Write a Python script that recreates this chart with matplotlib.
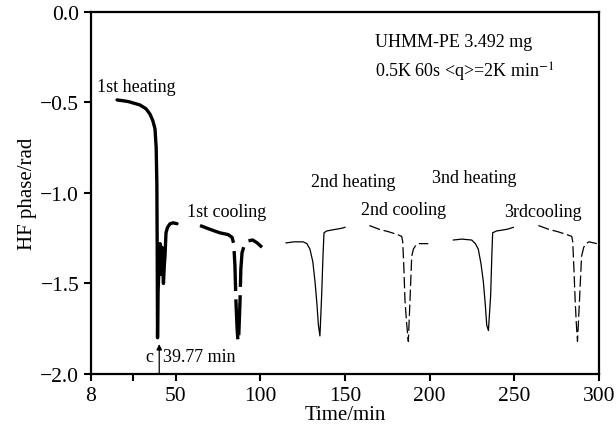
import matplotlib
matplotlib.use('Agg')
import matplotlib.pyplot as plt

# curves: time (min), HF phase (rad)
heat1_t = [15.4, 22.0, 28.9, 32.5, 34.8, 36.5, 37.8, 38.5, 38.9, 39.1, 39.3, 39.6, 40.2, 40.8, 41.3, 41.9, 42.4, 42.8, 43.3, 43.7, 44.3, 45.2, 46.7, 48.5, 50.8]
heat1_v = [-0.486, -0.495, -0.514, -0.535, -0.564, -0.60, -0.646, -0.75, -0.95, -1.30, -1.80, -1.55, -1.40, -1.28, -1.45, -1.30, -1.42, -1.50, -1.40, -1.35, -1.22, -1.19, -1.17, -1.165, -1.17]

cool1_t = [64.4, 70.0, 76.0, 81.0, 83.3, 84.3, 85.0, 85.6, 86.3, 86.8, 87.3, 88.0, 88.5, 89.2, 90.5, 92.5, 95.5, 98.0, 101.0]
cool1_v = [-1.18, -1.20, -1.22, -1.23, -1.245, -1.28, -1.40, -1.60, -1.75, -1.82, -1.78, -1.60, -1.42, -1.33, -1.29, -1.265, -1.26, -1.275, -1.30]

heat2_t = [115.2, 120.0, 125.3, 127.5, 129.3, 131.0, 132.3, 133.4, 134.3, 135.2, 136.2, 137.0, 137.6, 139.2, 142.0, 145.1, 148.0, 150.0]
heat2_v = [-1.276, -1.27, -1.27, -1.28, -1.31, -1.38, -1.49, -1.61, -1.73, -1.79, -1.57, -1.35, -1.22, -1.21, -1.205, -1.20, -1.195, -1.19]

cool2_t = [164.4, 170.0, 176.0, 181.0, 183.5, 184.1, 184.8, 185.4, 186.4, 187.4, 188.4, 189.4, 190.4, 191.8, 193.3, 196.0, 199.2]
cool2_v = [-1.18, -1.20, -1.215, -1.23, -1.24, -1.27, -1.42, -1.59, -1.72, -1.82, -1.59, -1.35, -1.31, -1.29, -1.28, -1.28, -1.28]

heat3_t = [214.0, 219.0, 224.8, 227.0, 228.7, 230.3, 231.7, 232.8, 233.7, 234.7, 236.0, 236.7, 237.2, 239.5, 243.0, 246.0, 249.4]
heat3_v = [-1.26, -1.255, -1.26, -1.28, -1.31, -1.39, -1.49, -1.61, -1.73, -1.76, -1.57, -1.35, -1.22, -1.21, -1.205, -1.20, -1.19]

cool3_t = [264.2, 270.0, 276.0, 281.0, 283.9, 284.5, 285.2, 285.9, 286.6, 287.3, 288.5, 289.7, 291.0, 292.5, 294.0, 296.5, 298.7]
cool3_v = [-1.18, -1.20, -1.215, -1.23, -1.24, -1.27, -1.42, -1.59, -1.72, -1.82, -1.59, -1.35, -1.30, -1.28, -1.27, -1.275, -1.28]

x_ticks = [0, 25, 50, 100, 150, 200, 250, 300]
x_labels = ['8', '', '50', '100', '150', '200', '250', '300']
y_ticks = [0.0, -0.5, -1.0, -1.5, -2.0]

plt.rcParams['font.family'] = ['Liberation Serif', 'DejaVu Serif']
plt.rcParams['mathtext.fontset'] = 'stix'

fig = plt.figure(figsize=(6.16, 4.31), dpi=100)
ax = fig.add_axes([0.1477, 0.130, 0.8247, 0.840])

ax.plot(heat1_t, heat1_v, color='black', linewidth=2.4, solid_capstyle='round')
ax.plot(cool1_t, cool1_v, color='black', linewidth=2.4, linestyle=(0, (12, 2.5)))
ax.plot(heat2_t, heat2_v, color='black', linewidth=0.9)
ax.plot(cool2_t, cool2_v, color='black', linewidth=0.9, linestyle=(0, (9, 3)))
ax.plot(heat3_t, heat3_v, color='black', linewidth=0.9)
ax.plot(cool3_t, cool3_v, color='black', linewidth=0.9, linestyle=(0, (9, 3)))

fs = 13
ax.text(3.5, -0.414, '1st heating', fontsize=fs, va='center')
ax.text(56.7, -1.10, '1st cooling', fontsize=fs, va='center')
ax.text(130.0, -0.934, '2nd heating', fontsize=fs, va='center')
ax.text(201.4, -0.912, '3nd heating', fontsize=fs, va='center')
ax.text(159.5, -1.094, '2nd cooling', fontsize=fs, va='center')
ax.text(243.9, -1.10, '3rdcooling', fontsize=fs, va='center')
ax.text(167.7, -0.166, 'UHMM-PE 3.492 mg', fontsize=fs, va='center')
ax.text(167.7, -0.326, r'0.5K 60s <q>=2K min$^{-1}$', fontsize=fs, va='center')

# peak marker
ax.annotate('', xy=(40.3, -1.835), xytext=(40.3, -1.995),
            arrowprops=dict(arrowstyle='-|>', color='black', lw=0.9,
                            mutation_scale=8, shrinkA=0, shrinkB=0))
ax.text(36.8, -1.905, 'c', fontsize=fs, va='center', ha='right')
ax.text(42.3, -1.905, '39.77 min', fontsize=fs, va='center', ha='left')

ax.set_xlim(0, 300)
ax.set_ylim(-2.0, 0.0)
ax.set_xticks(x_ticks)
ax.set_xticklabels(x_labels)
ax.set_yticks(y_ticks)
ax.tick_params(direction='out', length=5, width=1.5, labelsize=15.5)
for key in ax.spines:
    ax.spines[key].set_linewidth(1.6)

ax.set_xlabel('Time/min', fontsize=15, labelpad=0)
ax.set_ylabel('HF phase/rad', fontsize=15, labelpad=2)

fig.savefig('out.png', dpi=100)
